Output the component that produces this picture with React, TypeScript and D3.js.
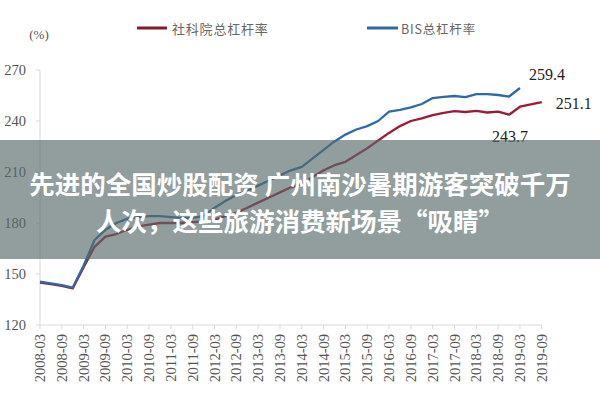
import React from "react";
import * as d3 from "d3";

const quarters = [
  "2008-03","2008-06","2008-09","2008-12","2009-03","2009-06","2009-09","2009-12",
  "2010-03","2010-06","2010-09","2010-12","2011-03","2011-06","2011-09","2011-12",
  "2012-03","2012-06","2012-09","2012-12","2013-03","2013-06","2013-09","2013-12",
  "2014-03","2014-06","2014-09","2014-12","2015-03","2015-06","2015-09","2015-12",
  "2016-03","2016-06","2016-09","2016-12","2017-03","2017-06","2017-09","2017-12",
  "2018-03","2018-06","2018-09","2018-12","2019-03","2019-06","2019-09",
];

const tickLabels = [
  "2008-03","2008-09","2009-03","2009-09","2010-03","2010-09","2011-03","2011-09",
  "2012-03","2012-09","2013-03","2013-09","2014-03","2014-09","2015-03","2015-09",
  "2016-03","2016-09","2017-03","2017-09","2018-03","2018-09","2019-03","2019-09",
];

const yTicks = [120, 150, 180, 210, 240, 270];

// 社科院总杠杆率 (2008-03 .. 2019-09)
const cassValues = [
  145, 144, 143, 141.5, 154, 166, 172, 173.5,
  176, 178, 179, 180, 180, 180, 180.5, 181,
  182, 184, 186, 189, 192, 195, 198, 201,
  203, 207, 211, 214, 216, 220, 224, 228.5,
  233, 237, 240, 241.5, 243.5, 244.8, 245.8, 245.3,
  245.9, 245, 245.5, 243.7, 248.4, 249.8, 251.1,
];

// BIS总杠杆率 (2008-03 .. 2019-03)
const bisValues = [
  145.5, 144.5, 143.5, 142, 155, 170, 176, 180,
  182.5, 183.5, 184, 184, 183.5, 183, 183, 184,
  189, 193, 196.5, 199, 202, 205, 208, 211,
  213, 218, 223, 228, 232, 235, 237, 240,
  245.5, 246.5, 248, 250, 253.5, 254.2, 254.7, 254,
  255.8, 255.8, 255.3, 254.4, 259.4,
];

const legendNames = ["社科院总杠杆率", "BIS总杠杆率"];
const annotations = [
  { series: 1, q: "2019-03", text: "259.4", dx: 27, dy: -14 },
  { series: 0, q: "2019-09", text: "251.1", dx: 32, dy: 1 },
  { series: 0, q: "2018-12", text: "243.7", dx: 1, dy: 22 },
];
const bannerLines = [
  "先进的全国炒股配资 广州南沙暑期游客突破千万",
  "人次，这些旅游消费新场景“吸睛”",
];

const RED = "#9b1c36";
const BLUE = "#2f6aa6";

export default function App() {
  const W = 600, H = 400;
  const x = d3.scaleLinear().domain([0, quarters.length - 1]).range([40, 541.8]);
  const y = d3.scaleLinear().domain([120, 270]).range([325, 70]);
  const line = d3.line<number>().x((_, i) => x(i)).y((d) => y(d));
  const serif = "'Liberation Serif', 'Times New Roman', serif";
  const cjk = "'Noto Sans CJK SC', sans-serif";
  const seriesVals = [cassValues, bisValues];

  return (
    <svg width={W} height={H} style={{ position: "absolute", left: 0, top: 0, background: "#fff" }}>
      <rect x={0} y={0} width={W} height={H} fill="#fff" />
      {/* unit */}
      <text x={39} y={39} fontFamily={serif} fontSize={13} fill="#555" textAnchor="middle">(%)</text>
      {/* legend */}
      <line x1={137} x2={167} y1={28} y2={28} stroke="#7d1a2c" strokeWidth={3} />
      <text x={172} y={28} dominantBaseline="central" fontFamily={cjk} fontSize={13} fill="#666" letterSpacing={0.8}>{legendNames[0]}</text>
      <line x1={367} x2={398} y1={28} y2={28} stroke={BLUE} strokeWidth={3} />
      <text x={401} y={28} dominantBaseline="central" fontFamily={cjk} fontSize={12.5} fill="#666" letterSpacing={0.8}>{legendNames[1]}</text>

      {/* y axis */}
      <line x1={40} x2={40} y1={y(270)} y2={y(120)} stroke="#d9d9d9" strokeWidth={1} />
      {yTicks.map((t) => (
        <g key={t}>
          <line x1={36} x2={40} y1={y(t)} y2={y(t)} stroke="#d9d9d9" />
          <text x={26} y={y(t)} dominantBaseline="central" textAnchor="end" fontFamily={serif} fontSize={14.5} fill="#555">{t}</text>
        </g>
      ))}
      {/* x axis */}
      <line x1={40} x2={x(quarters.length - 1)} y1={y(120)} y2={y(120)} stroke="#d9d9d9" />
      {tickLabels.map((lab) => {
        const xi = x(quarters.indexOf(lab));
        return (
          <g key={lab}>
            <line x1={xi} x2={xi} y1={y(120)} y2={y(120) + 4} stroke="#d9d9d9" />
            <text
              transform={`translate(${xi},${y(120) + 9}) rotate(-90)`}
              textAnchor="end"
              dominantBaseline="central"
              fontFamily={serif}
              fontSize={14.5}
              fill="#555"
            >{lab}</text>
          </g>
        );
      })}

      {/* lines */}
      <path d={line(cassValues) || ""} fill="none" stroke={RED} strokeWidth={2.3} strokeLinejoin="round" />
      <path d={line(bisValues) || ""} fill="none" stroke={BLUE} strokeWidth={2.3} strokeLinejoin="round" />

      {/* annotations */}
      {annotations.map((a) => {
        const i = quarters.indexOf(a.q);
        const v = seriesVals[a.series][i];
        return (
          <text key={a.text} x={x(i) + a.dx} y={y(v) + a.dy} textAnchor="middle" dominantBaseline="central" fontFamily={serif} fontSize={16} fill="#222">{a.text}</text>
        );
      })}

      {/* overlay banner */}
      <rect x={0} y={140} width={W} height={119} fill="rgb(88,106,106)" fillOpacity={0.65} />
      {bannerLines.map((t, k) => (
        <text key={k} x={300} y={182 + k * 37} textAnchor="middle" dominantBaseline="central" fontFamily={cjk} fontWeight={700} fontSize={25.5} fill="#fff">{t}</text>
      ))}
    </svg>
  );
}
